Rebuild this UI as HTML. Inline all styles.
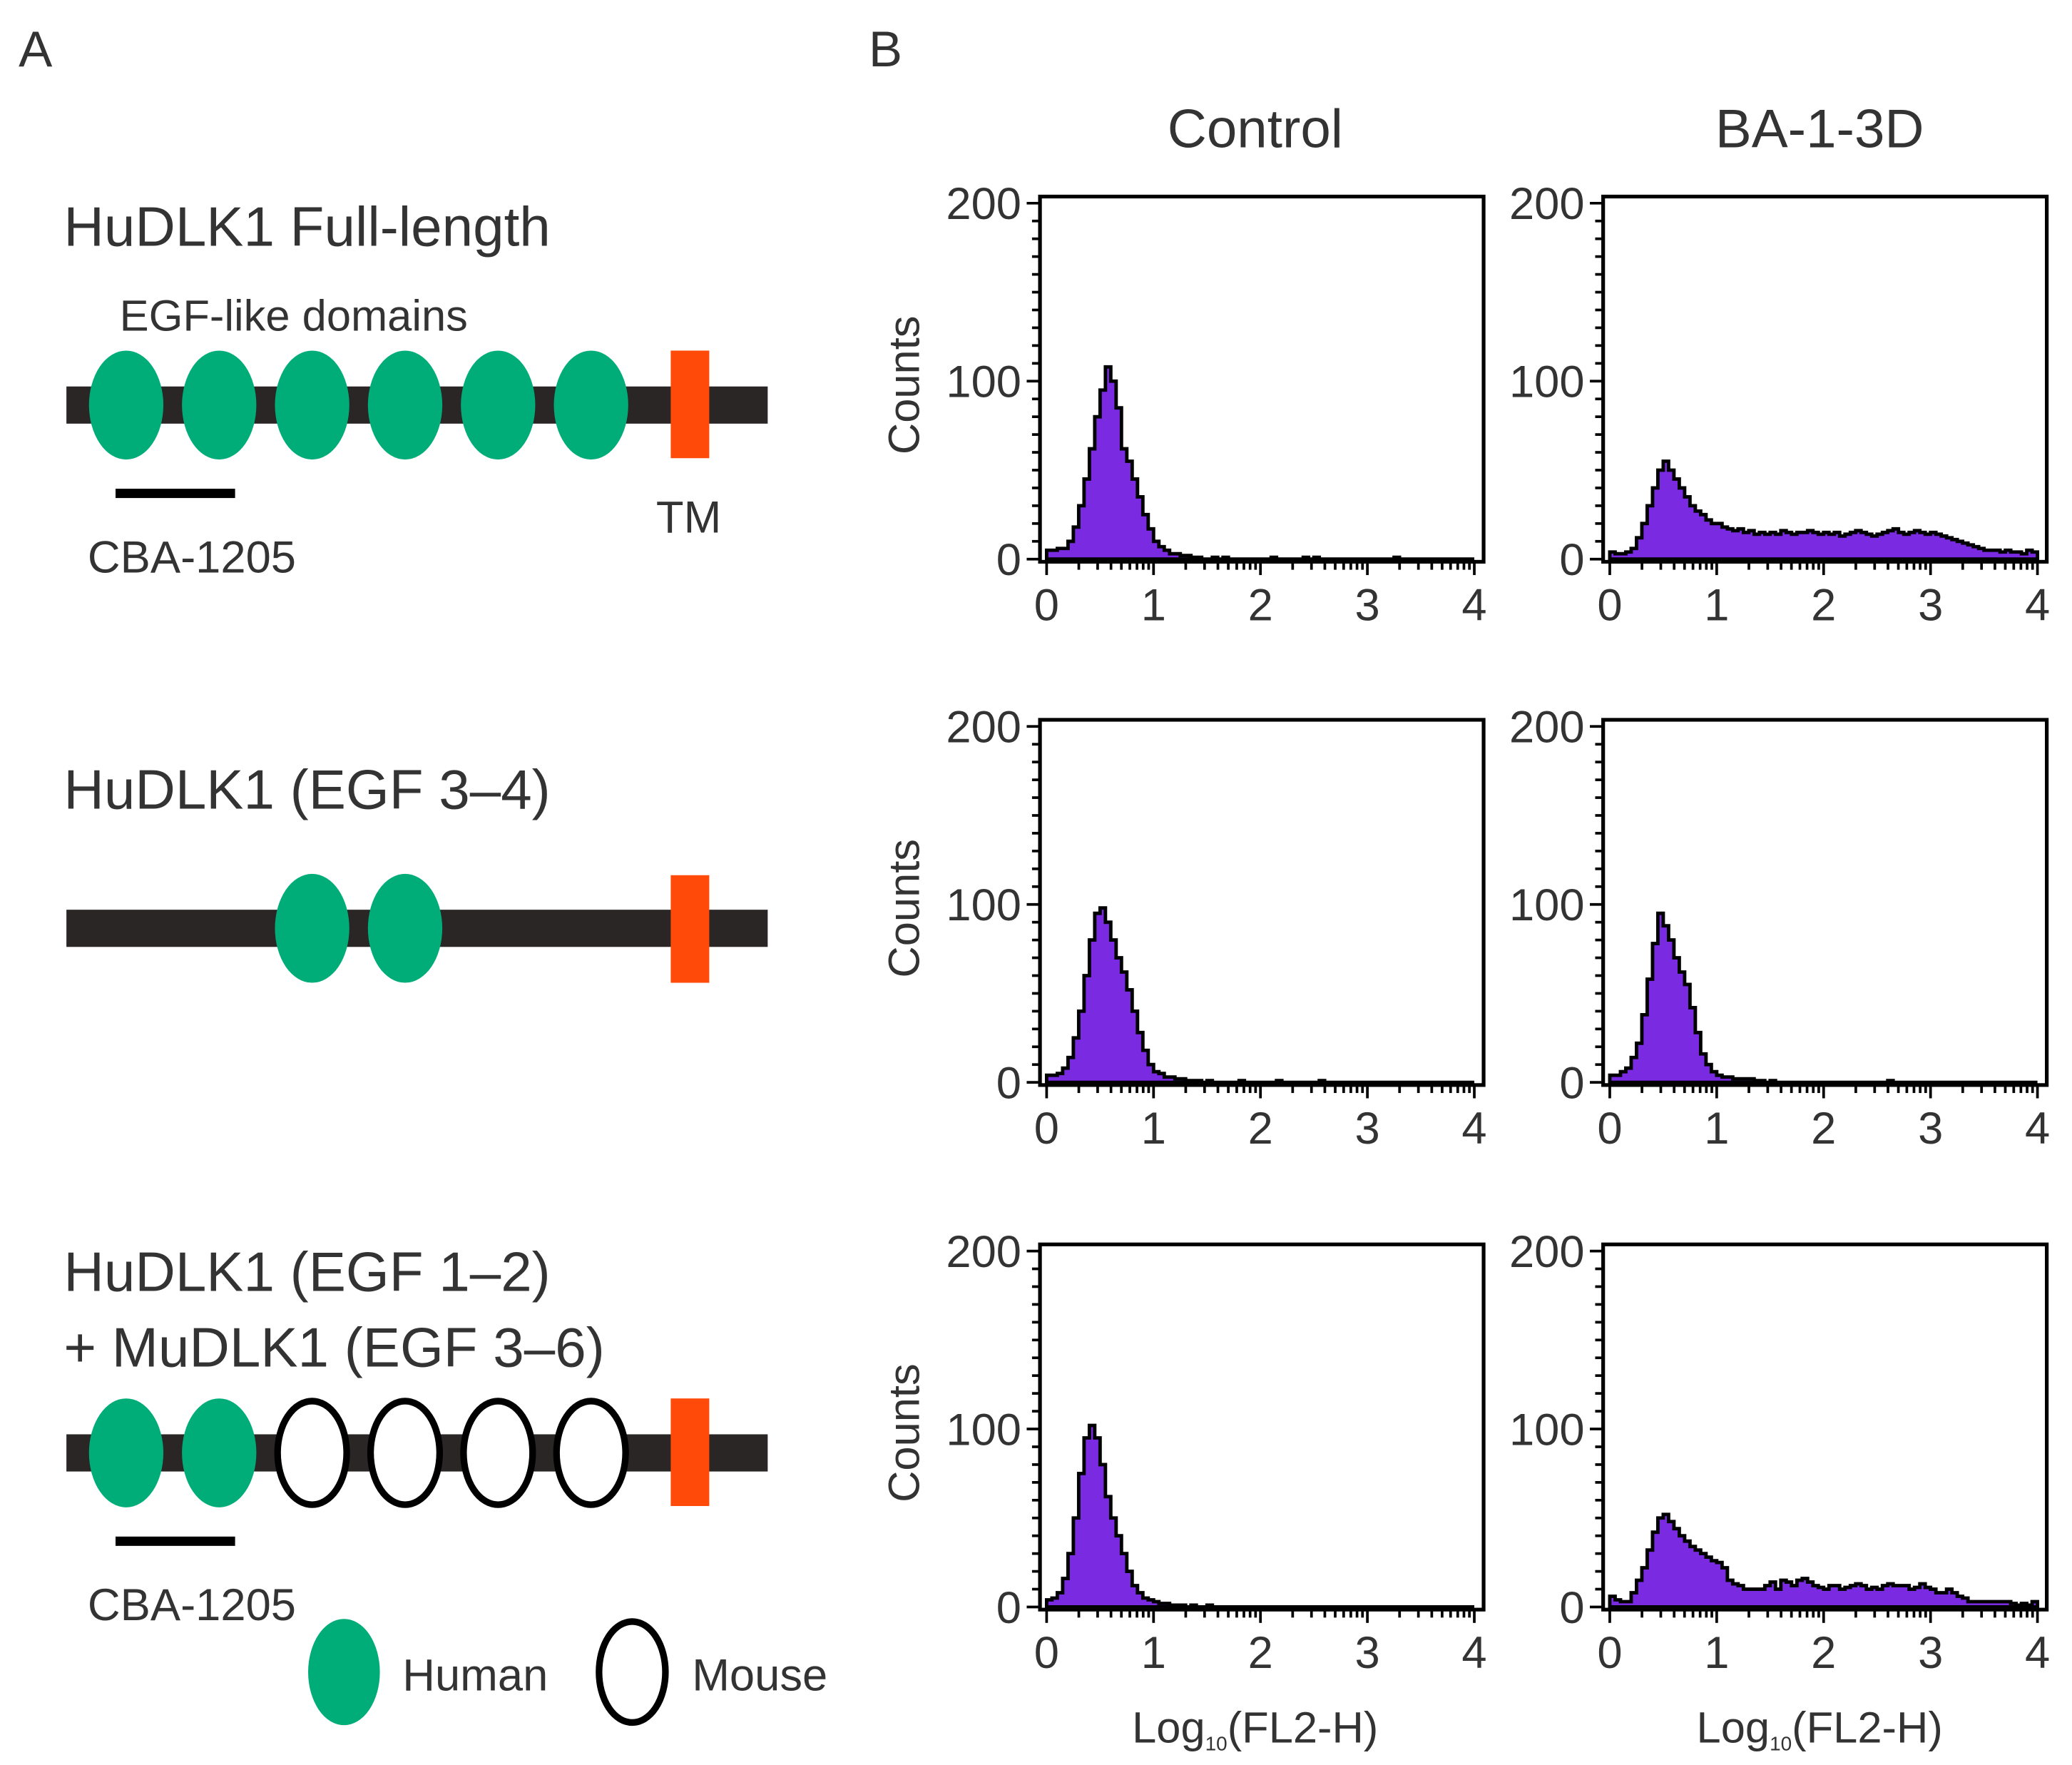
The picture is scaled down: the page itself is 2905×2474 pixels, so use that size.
<!DOCTYPE html>
<html><head><meta charset="utf-8"><style>
html,body{margin:0;padding:0;background:#fff;}
svg{display:block;}
text{font-family:"Liberation Sans",sans-serif;fill:#333;}
</style></head><body>
<svg id="fig" width="2905" height="2474" viewBox="0 0 1560 1329" preserveAspectRatio="none" xmlns="http://www.w3.org/2000/svg">
<rect x="0" y="0" width="1560" height="1329" fill="#fff"/>
<text x="14" y="50" font-size="38">A</text>
<text x="654" y="50" font-size="38">B</text>

<g>
<text x="48" y="185" font-size="42">HuDLK1 Full-length</text>
<text x="90" y="249" font-size="33">EGF-like domains</text>
<rect x="50" y="291" width="528" height="28" fill="#2b2626"/>
<ellipse cx="95" cy="305" rx="28" ry="41" fill="#00ad78"/>
<ellipse cx="165" cy="305" rx="28" ry="41" fill="#00ad78"/>
<ellipse cx="235" cy="305" rx="28" ry="41" fill="#00ad78"/>
<ellipse cx="305" cy="305" rx="28" ry="41" fill="#00ad78"/>
<ellipse cx="375" cy="305" rx="28" ry="41" fill="#00ad78"/>
<ellipse cx="445" cy="305" rx="28" ry="41" fill="#00ad78"/>
<rect x="505" y="264" width="29" height="81" fill="#ff4a0a"/>
<rect x="87" y="368" width="90" height="7" fill="#000"/>
<text x="66" y="431" font-size="34">CBA-1205</text>
<text x="494" y="401" font-size="34">TM</text>
</g>

<g>
<text x="48" y="609" font-size="42">HuDLK1 (EGF 3–4)</text>
<rect x="50" y="685" width="528" height="28" fill="#2b2626"/>
<ellipse cx="235" cy="699" rx="28" ry="41" fill="#00ad78"/>
<ellipse cx="305" cy="699" rx="28" ry="41" fill="#00ad78"/>
<rect x="505" y="659" width="29" height="81" fill="#ff4a0a"/>
</g>

<g>
<text x="48" y="972" font-size="42">HuDLK1 (EGF 1–2)</text>
<text x="48" y="1029" font-size="42">+ MuDLK1 (EGF 3–6)</text>
<rect x="50" y="1080" width="528" height="28" fill="#2b2626"/>
<ellipse cx="95" cy="1094" rx="28" ry="41" fill="#00ad78"/>
<ellipse cx="165" cy="1094" rx="28" ry="41" fill="#00ad78"/>
<ellipse cx="235" cy="1094" rx="26" ry="39" fill="#fff" stroke="#000" stroke-width="5"/>
<ellipse cx="305" cy="1094" rx="26" ry="39" fill="#fff" stroke="#000" stroke-width="5"/>
<ellipse cx="375" cy="1094" rx="26" ry="39" fill="#fff" stroke="#000" stroke-width="5"/>
<ellipse cx="445" cy="1094" rx="26" ry="39" fill="#fff" stroke="#000" stroke-width="5"/>
<rect x="505" y="1053" width="29" height="81" fill="#ff4a0a"/>
<rect x="87" y="1157" width="90" height="7" fill="#000"/>
<text x="66" y="1220" font-size="34">CBA-1205</text>
<ellipse cx="259" cy="1259" rx="27" ry="40" fill="#00ad78"/>
<text x="303" y="1273" font-size="34">Human</text>
<ellipse cx="476" cy="1259" rx="25" ry="38" fill="#fff" stroke="#000" stroke-width="5"/>
<text x="521" y="1273" font-size="34">Mouse</text>
</g>

<text x="945" y="111" font-size="41" text-anchor="middle">Control</text>
<text x="1370" y="111" font-size="41" text-anchor="middle">BA-1-3D</text>
<text x="945" y="1312" font-size="33" text-anchor="middle">Log<tspan font-size="15" dy="6">10</tspan><tspan dy="-6">(FL2-H)</tspan></text>
<text x="1370" y="1312" font-size="33" text-anchor="middle">Log<tspan font-size="15" dy="6">10</tspan><tspan dy="-6">(FL2-H)</tspan></text>
<g id="charts"></g>
</svg>
<script>
const xTicks = [0, 1, 2, 3, 4];
const yTicks = [0, 100, 200];
const ctrl1 = [5,5,6,6,10,18,30,45,62,80,95,108,100,85,62,55,45,35,25,17,10,7,5,3,3,2,2,1,1,0,0,1,0,1,0,0,0,0,0,0,0,0,1,0,0,0,0,0,1,0,1,0,0,0,0,0,0,0,0,0,0,0,0,0,0,1,0,0,0,0,0,0,0,0,0,0,0,0,0,0];
const ba1 = [4,3,3,4,6,12,20,30,40,50,55,50,45,40,35,30,27,25,22,20,20,18,17,16,17,15,16,14,15,14,15,14,16,15,14,15,15,16,15,14,15,14,15,13,14,15,16,15,14,13,14,15,16,17,15,14,15,16,15,14,15,14,13,12,11,10,9,8,7,6,5,5,5,4,5,4,4,3,5,4];
const ctrl2 = [4,4,5,8,14,25,40,60,80,95,98,90,80,70,62,52,40,28,18,10,6,5,3,3,2,2,1,1,1,0,1,0,0,0,0,0,1,0,0,0,0,0,0,1,0,0,0,0,0,0,0,1,0,0,0,0,0,0,0,0,0,0,0,0,0,0,0,0,0,0,0,0,0,0,0,0,0,0,0,0];
const ba2 = [4,4,6,8,14,22,38,58,78,95,88,80,70,62,55,42,28,16,10,6,4,3,3,2,2,2,2,1,1,0,1,0,0,0,0,0,0,0,0,0,0,0,0,0,0,0,0,0,0,0,0,0,1,0,0,0,0,0,0,0,0,0,0,0,0,0,0,0,0,0,0,0,0,0,0,0,0,0,0,0];
const ctrl3 = [4,5,8,16,30,50,75,95,102,95,80,62,50,40,30,20,12,8,5,4,3,2,2,1,1,1,0,1,0,0,1,0,0,0,0,0,0,0,0,0,0,0,0,0,0,0,0,0,0,0,0,0,0,0,0,0,0,0,0,0,0,0,0,0,0,0,0,0,0,0,0,0,0,0,0,0,0,0,0,0];
const ba3 = [6,4,3,3,8,15,22,32,42,50,52,48,44,40,37,34,32,30,28,26,25,22,15,13,12,10,10,10,10,12,14,10,15,14,12,15,16,14,12,11,10,12,12,10,11,12,13,12,10,11,10,12,13,12,12,12,10,11,13,11,10,8,8,10,8,6,5,3,3,3,3,3,3,3,3,2,1,2,1,3];

const NS = 'http://www.w3.org/2000/svg';
const root = document.getElementById('charts');
function mk(tag, attrs, parent){ const e=document.createElementNS(NS,tag); for(const k in attrs) e.setAttribute(k,attrs[k]); parent.appendChild(e); return e; }

const panels = [
  {data:ctrl1, bx:783, by:148, name:'hist-control-full'},
  {data:ba1, bx:1207, by:148, name:'hist-ba-full'},
  {data:ctrl2, bx:783, by:542, name:'hist-control-egf34'},
  {data:ba2, bx:1207, by:542, name:'hist-ba-egf34'},
  {data:ctrl3, bx:783, by:937, name:'hist-control-chimera'},
  {data:ba3, bx:1207, by:937, name:'hist-ba-chimera'}
];
panels.forEach((p, idx) => {
  const g = mk('g', {}, root);
  
  
  const W = 334, H = 275;
  const x0 = p.bx + 5, x1 = p.bx + 327;
  const y0 = p.by + 273, y200 = p.by + 5;
  const xs = v => x0 + (x1 - x0) * v / 4;
  const ys = v => y0 - (y0 - y200) * v / 200;
  const n = p.data.length, bw = 4 / n;
  let d = 'M' + xs(0) + ',' + ys(0);
  p.data.forEach((v, i) => { d += ' L' + xs(i*bw) + ',' + ys(v) + ' L' + xs((i+1)*bw) + ',' + ys(v); });
  d += ' L' + xs(4) + ',' + ys(0) + ' Z';
  const h = mk('path', {d:d, fill:'#7a2ae0', stroke:'#000', 'stroke-width':2.6, 'stroke-linejoin':'miter'}, g);
  
  
  const fr = mk('rect', {x:p.bx, y:p.by, width:W, height:H, fill:'none', stroke:'#000', 'stroke-width':2.8}, g);
  
  
  for (let v = 0; v <= 200; v += 10) {
    const major = (v % 100 === 0);
    mk('line', {x1:p.bx - (major ? 10 : 6), x2:p.bx, y1:ys(v), y2:ys(v), stroke:'#000', 'stroke-width':2}, g);
  }
  yTicks.forEach(v => {
    const t = mk('text', {x:p.bx - 14, y:ys(v) + 12, 'font-size':34, 'text-anchor':'end'}, g);
    t.textContent = v;
    
    
  });
  const by = p.by + H;
  for (let dec = 0; dec < 4; dec++) {
    for (let k = 1; k <= 9; k++) {
      const v = dec + Math.log10(k);
      mk('line', {x1:xs(v), x2:xs(v), y1:by, y2:by + (k === 1 ? 10 : 6), stroke:'#000', 'stroke-width':2}, g);
    }
  }
  mk('line', {x1:xs(4), x2:xs(4), y1:by, y2:by + 10, stroke:'#000', 'stroke-width':2}, g);
  xTicks.forEach(v => {
    const t = mk('text', {x:xs(v), y:by + 44, 'font-size':34, 'text-anchor':'middle'}, g);
    t.textContent = v;
    
    
  });
  if (idx % 2 === 0) {
    const cy = p.by + 142;
    const t = mk('text', {x:0, y:0, 'font-size':33, 'text-anchor':'middle', transform:'translate(692,' + cy + ') rotate(-90)'}, g);
    t.textContent = 'Counts';
    
    
  }
});
</script>
</body></html>
